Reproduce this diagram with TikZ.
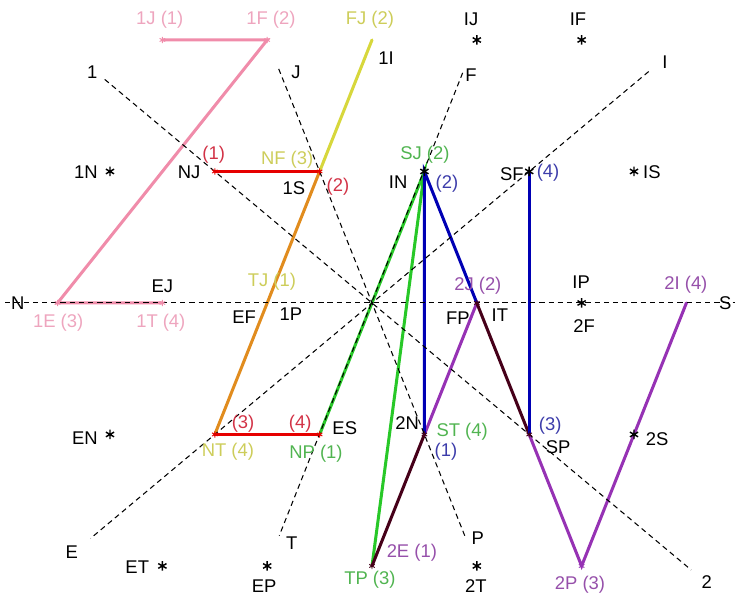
\documentclass[tikz,border=0pt]{standalone}
\usepackage{fontspec}
\setmainfont{Liberation Sans}
\usetikzlibrary{arrows.meta, positioning}

\definecolor{pinkline}{RGB}{240,140,170}
\definecolor{pinktext}{RGB}{238,165,190}
\definecolor{yellowline}{RGB}{215,215,60}
\definecolor{yellowtext}{RGB}{205,205,90}
\definecolor{orangeline}{RGB}{225,140,30}
\definecolor{redline}{RGB}{230,0,0}
\definecolor{redtext}{RGB}{210,50,70}
\definecolor{greenline}{RGB}{40,200,40}
\definecolor{greentext}{RGB}{80,180,80}
\definecolor{blueline}{RGB}{0,0,180}
\definecolor{bluetext}{RGB}{60,60,170}
\definecolor{purpleline}{RGB}{150,50,180}
\definecolor{purpletext}{RGB}{150,80,170}
\definecolor{maroonline}{RGB}{70,0,25}

\tikzset{
  astk/.pic={\draw[line width=1.1pt] (90:3.6pt) -- (270:3.6pt)
    (30:3.6pt) -- (210:3.6pt) (150:3.6pt) -- (330:3.6pt);},
  tick/.pic={\draw[line width=0.7pt] (90:2.4pt) -- (270:2.4pt)
    (30:2.4pt) -- (210:2.4pt) (150:2.4pt) -- (330:2.4pt);}
}

\begin{document}
\begin{tikzpicture}[x=1.4cm, y=3.513cm, >=Stealth,
  lbl/.style={inner sep=0pt, font=\fontsize{14}{16}\selectfont},
  guide/.style={dash pattern=on 4pt off 3pt, line width=0.8pt},
  track/.style={line width=2.3pt, line cap=round}]
  \useasboundingbox (-7.099,-2.289) rectangle (6.927,2.304);
  % Grid points
  \coordinate (p1J) at (-4,2);  \coordinate (p1F) at (-2,2);
  \coordinate (pFJ) at (0,2);   \coordinate (pIJ) at (2,2);
  \coordinate (pIF) at (4,2);
  \coordinate (p1N) at (-5,1);  \coordinate (pNJ) at (-3,1);
  \coordinate (pNF) at (-1,1);  \coordinate (pSJ) at (1,1);
  \coordinate (pSF) at (3,1);   \coordinate (pIS) at (5,1);
  \coordinate (p1E) at (-6,0);  \coordinate (p1T) at (-4,0);
  \coordinate (pTJ) at (-2,0);  \coordinate (p2J) at (2,0);
  \coordinate (pIP) at (4,0);   \coordinate (p2I) at (6,0);
  \coordinate (pEN) at (-5,-1); \coordinate (pNT) at (-3,-1);
  \coordinate (pNP) at (-1,-1); \coordinate (pST) at (1,-1);
  \coordinate (pSP) at (3,-1);  \coordinate (p2S) at (5,-1);
  \coordinate (pET) at (-4,-2); \coordinate (pEP) at (-2,-2);
  \coordinate (pTP) at (0,-2);  \coordinate (p2T) at (2,-2);
  \coordinate (p2P) at (4,-2);
  % Guide line ends
  \coordinate (aN) at (-7.0,0);      \coordinate (aS) at (6.93,0);
  \coordinate (a1) at (-5.1,1.7);    \coordinate (a2) at (6.09,-2.03);
  \coordinate (aJ) at (-1.78,1.78);  \coordinate (aP) at (1.78,-1.78);
  \coordinate (aF) at (1.73,1.75);   \coordinate (aT) at (-1.77,-1.77);
  \coordinate (aI) at (5.28,1.76);   \coordinate (aE) at (-5.37,-1.79);
  % Tracks
  \draw[track, pinkline] (p1J) -- (p1F) -- (p1E) -- (p1T);
  \draw[track, yellowline] (pFJ) -- (pNF);
  \draw[track, redline] (pNJ) -- (pNF);
  \draw[track, orangeline] (pNF) -- (pNT);
  \draw[track, redline] (pNT) -- (pNP);
  \draw[track, greenline] (pNP) -- (pSJ) -- (pTP);
  \draw[track, maroonline] (pTP) -- (pST);
  \draw[track, purpleline] (pST) -- (p2J);
  \draw[track, blueline] (pST) -- (pSJ) -- (p2J);
  \draw[track, maroonline] (p2J) -- (pSP);
  \draw[track, purpleline] (pSP) -- (p2P) -- (p2I);
  \draw[track, blueline] (pSP) -- (pSF);
  % Guide lines
  \draw[guide] (aN) -- (aS);
  \draw[guide] (a1) -- (a2);
  \draw[guide] (aJ) -- (aP);
  \draw[guide] (aF) -- (aT);
  \draw[guide] (aI) -- (aE);
  % Stars
  \foreach \p in {pIJ,pIF,p1N,pIS,pIP,pEN,p2S,pET,pEP,p2T,pSJ,pSF}
    \pic at (\p) {astk};
  \foreach \p in {p1J,p1F,p1E,p1T}
    \pic[pinkline] at (\p) {tick};
  \foreach \p in {pNJ,pNF,pNT,pNP}
    \pic[redline] at (\p) {tick};
  \foreach \p in {pTP,pST,pSP,p2J}
    \pic[maroonline] at (\p) {tick};
  \pic[purpleline] at (p2P) {tick};
  % Black labels
  \node[lbl] (l1)  at (-5.34,1.757) {1};
  \node[lbl] (lJ)  at (-1.45,1.757) {J};
  \node[lbl] (lF)  at (1.89,1.734) {F};
  \node[lbl] (lI)  at (5.59,1.833) {I};
  \node[lbl] (lIJ) at (1.89,2.16) {IJ};
  \node[lbl] (lIF) at (3.93,2.16) {IF};
  \node[lbl] (l1I) at (0.27,1.863) {1I};
  \node[lbl] (l1N) at (-5.46,0.996) {1N};
  \node[lbl] (lNJ) at (-3.49,0.996) {NJ};
  \node[lbl] (l1S) at (-1.49,0.875) {1S};
  \node[lbl] (lIN) at (0.5,0.92) {IN};
  \node[lbl] (lSF) at (2.67,0.98) {SF};
  \node[lbl] (lIS) at (5.34,0.996) {IS};
  \node[lbl] (lEJ) at (-4.0,0.13) {EJ};
  \node[lbl] (lN)  at (-6.76,0) {N};
  \node[lbl] (lS)  at (6.74,0) {S};
  \node[lbl] (lEF) at (-2.44,-0.106) {EF};
  \node[lbl] (l1P) at (-1.55,-0.084) {1P};
  \node[lbl] (lFP) at (1.64,-0.114) {FP};
  \node[lbl] (lIT) at (2.44,-0.091) {IT};
  \node[lbl] (lIP) at (3.99,0.16) {IP};
  \node[lbl] (l2F) at (4.05,-0.175) {2F};
  \node[lbl] (lEN) at (-5.48,-1.027) {EN};
  \node[lbl] (lES) at (-0.52,-0.95) {ES};
  \node[lbl] (l2N) at (0.67,-0.913) {2N};
  \node[lbl] (lSP) at (3.55,-1.095) {SP};
  \node[lbl] (l2S) at (5.44,-1.034) {2S};
  \node[lbl] (lE)  at (-5.73,-1.894) {E};
  \node[lbl] (lT)  at (-1.53,-1.825) {T};
  \node[lbl] (lP)  at (2.02,-1.787) {P};
  \node[lbl] (l2)  at (6.39,-2.12) {2};
  \node[lbl] (lET) at (-4.48,-2.008) {ET};
  \node[lbl] (lEP) at (-2.06,-2.155) {EP};
  \node[lbl] (l2T) at (1.98,-2.155) {2T};
  % Coloured labels
  \node[lbl, pinktext] (t1J) at (-4.05,2.152) {1J (1)};
  \node[lbl, pinktext] (t1F) at (-1.93,2.152) {1F (2)};
  \node[lbl, pinktext] (t1E) at (-5.99,-0.152) {1E (3)};
  \node[lbl, pinktext] (t1T) at (-4.03,-0.152) {1T (4)};
  \node[lbl, yellowtext] (tFJ) at (-0.04,2.152) {FJ (2)};
  \node[lbl, yellowtext] (tNF) at (-1.62,1.087) {NF (3)};
  \node[lbl, yellowtext] (tTJ) at (-1.91,0.16) {TJ (1)};
  \node[lbl, yellowtext] (tNT) at (-2.75,-1.133) {NT (4)};
  \node[lbl, redtext] (rNJ) at (-3.02,1.125) {(1)};
  \node[lbl, redtext] (rNF) at (-0.65,0.882) {(2)};
  \node[lbl, redtext] (rNT) at (-2.46,-0.92) {(3)};
  \node[lbl, redtext] (rNP) at (-1.37,-0.92) {(4)};
  \node[lbl, greentext] (gSJ) at (1.01,1.13) {SJ (2)};
  \node[lbl, greentext] (gNP) at (-1.07,-1.148) {NP (1)};
  \node[lbl, greentext] (gST) at (1.72,-0.981) {ST (4)};
  \node[lbl, greentext] (gTP) at (-0.04,-2.106) {TP (3)};
  \node[lbl, bluetext] (bSJ) at (1.43,0.905) {(2)};
  \node[lbl, bluetext] (bSF) at (3.36,0.989) {(4)};
  \node[lbl, bluetext] (bST) at (1.41,-1.133) {(1)};
  \node[lbl, bluetext] (bSP) at (3.4,-0.935) {(3)};
  \node[lbl, purpletext] (u2J) at (2.02,0.129) {2J (2)};
  \node[lbl, purpletext] (u2I) at (5.99,0.137) {2I (4)};
  \node[lbl, purpletext] (u2E) at (0.76,-1.901) {2E (1)};
  \node[lbl, purpletext] (u2P) at (3.97,-2.144) {2P (3)};
\end{tikzpicture}
\end{document}
